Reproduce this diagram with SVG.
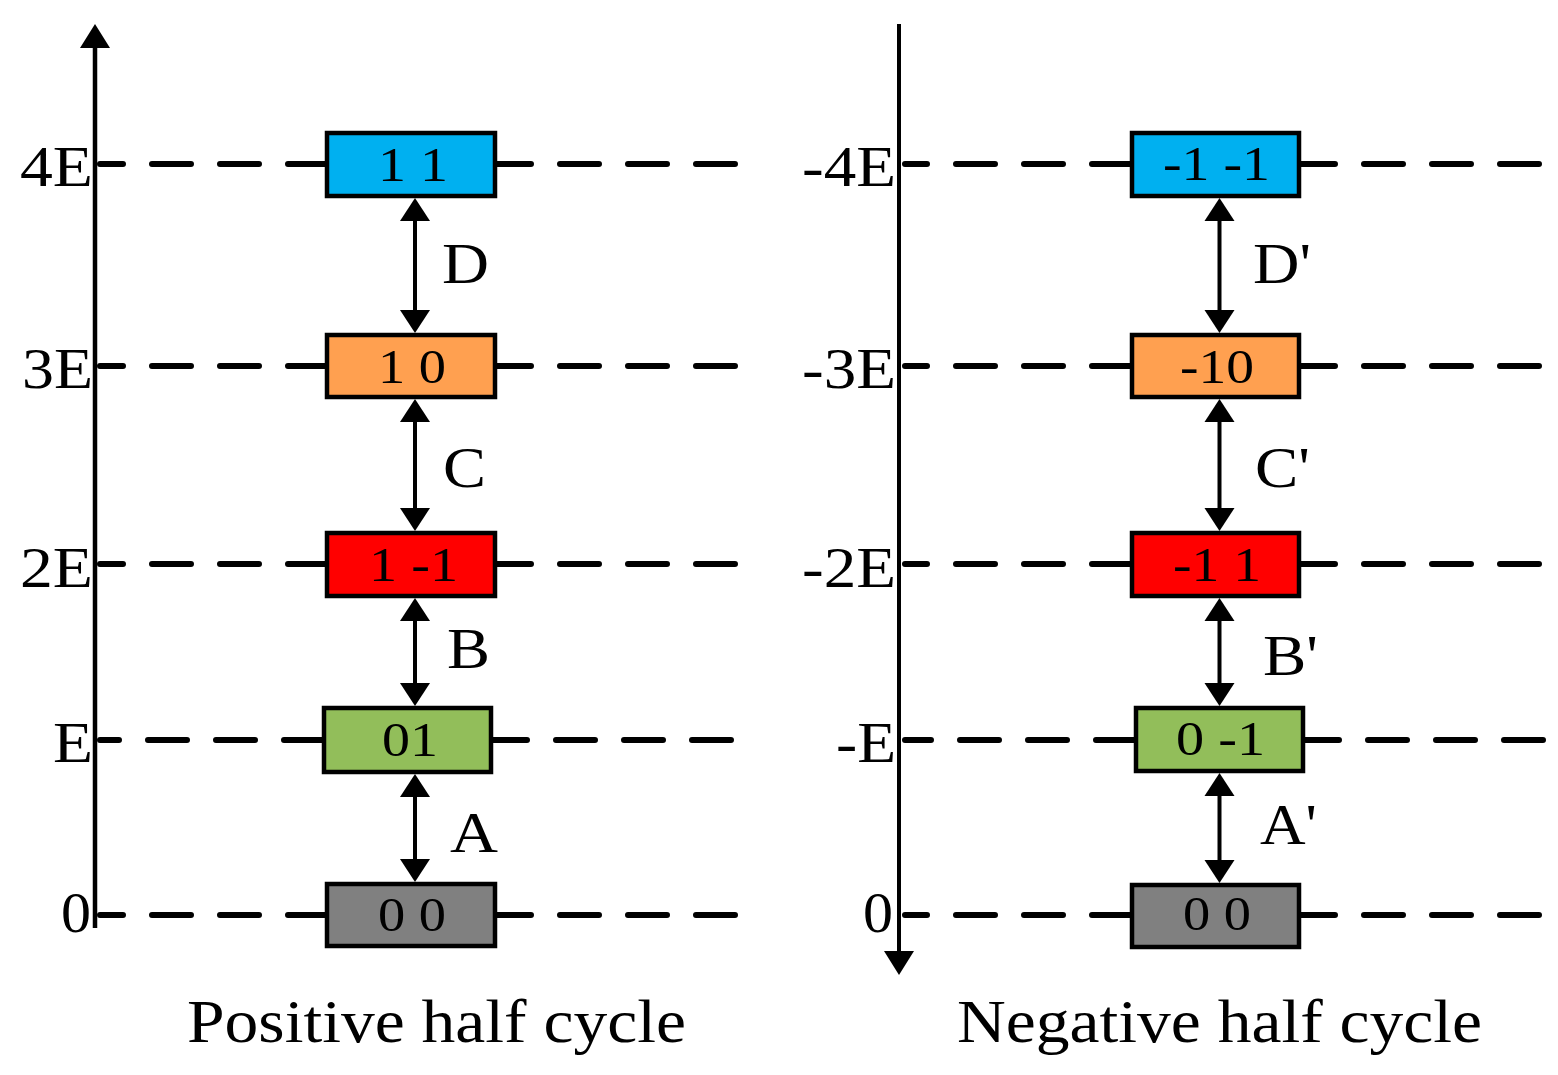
<svg xmlns="http://www.w3.org/2000/svg" width="1558" height="1075" viewBox="0 0 1558 1075">
<style>
text{font-family:"Liberation Serif","Times New Roman",serif;fill:#000}
.box{stroke:#000;stroke-width:4.5}
.bt{font-size:49px}
.lbl{font-size:58px}
.ttl{font-size:61px}
.dash{stroke:#000;stroke-width:6;stroke-linecap:round;stroke-dasharray:39 29;fill:none}
.ax{stroke:#000;stroke-width:4.5;fill:none}
.arr{stroke:#000;stroke-width:4;fill:none;marker-start:url(#ah);marker-end:url(#ah)}
</style>
<defs>
<marker id="ah" viewBox="0 -16 24 32" refX="11" refY="0" markerWidth="24" markerHeight="32" markerUnits="userSpaceOnUse" orient="auto-start-reverse">
<path d="M0,-15 L23,0 L0,15 Z" fill="#000"/>
</marker>
<marker id="axh" viewBox="0 -16 25 32" refX="11" refY="0" markerWidth="25" markerHeight="32" markerUnits="userSpaceOnUse" orient="auto">
<path d="M0,-15 L24,0 L0,15 Z" fill="#000"/>
</marker>
</defs>
<rect width="1558" height="1075" fill="#fff"/>

<g id="levels">
<line class="dash" x1="100" y1="164" x2="735" y2="164" stroke-dashoffset="16"/>
<line class="dash" x1="100" y1="366" x2="735" y2="366" stroke-dashoffset="16"/>
<line class="dash" x1="100" y1="564" x2="735" y2="564" stroke-dashoffset="16"/>
<line class="dash" x1="100" y1="740" x2="731" y2="740" stroke-dashoffset="20"/>
<line class="dash" x1="100" y1="915" x2="735" y2="915" stroke-dashoffset="16"/>
<line class="dash" x1="905" y1="164" x2="1540" y2="164" stroke-dashoffset="17"/>
<line class="dash" x1="905" y1="366" x2="1540" y2="366" stroke-dashoffset="17"/>
<line class="dash" x1="905" y1="564" x2="1540" y2="564" stroke-dashoffset="17"/>
<line class="dash" x1="905" y1="740" x2="1547" y2="740" stroke-dashoffset="13"/>
<line class="dash" x1="905" y1="915" x2="1540" y2="915" stroke-dashoffset="17"/>
</g>

<g id="axes">
<line class="ax" x1="95" y1="928" x2="95" y2="37" marker-end="url(#axh)"/>
<line class="ax" x1="899" y1="24" x2="899" y2="962" marker-end="url(#axh)" style="stroke-width:4"/>
<text class="lbl" x="20" y="186" textLength="73" lengthAdjust="spacingAndGlyphs">4E</text>
<text class="lbl" x="22" y="388" textLength="71" lengthAdjust="spacingAndGlyphs">3E</text>
<text class="lbl" x="20" y="587" textLength="73" lengthAdjust="spacingAndGlyphs">2E</text>
<text class="lbl" x="53" y="762" textLength="40" lengthAdjust="spacingAndGlyphs">E</text>
<text class="lbl" x="61" y="932" textLength="30" lengthAdjust="spacingAndGlyphs">0</text>
<text class="lbl" x="802" y="186" textLength="94" lengthAdjust="spacingAndGlyphs">-4E</text>
<text class="lbl" x="802" y="388" textLength="94" lengthAdjust="spacingAndGlyphs">-3E</text>
<text class="lbl" x="802" y="587" textLength="94" lengthAdjust="spacingAndGlyphs">-2E</text>
<text class="lbl" x="836" y="762" textLength="60" lengthAdjust="spacingAndGlyphs">-E</text>
<text class="lbl" x="863" y="932" textLength="30" lengthAdjust="spacingAndGlyphs">0</text>
</g>

<g id="p11"><rect class="box" x="327" y="133" width="168" height="63" fill="#00B0F0"/><text class="bt" x="378" y="181" textLength="70" lengthAdjust="spacingAndGlyphs">1 1</text></g>
<g id="p10"><rect class="box" x="327" y="335" width="168" height="62" fill="#FFA050"/><text class="bt" x="378" y="383" textLength="68" lengthAdjust="spacingAndGlyphs">1 0</text></g>
<g id="p1m1"><rect class="box" x="327" y="533" width="168" height="63" fill="#FF0000"/><text class="bt" x="369" y="581" textLength="89" lengthAdjust="spacingAndGlyphs">1 -1</text></g>
<g id="p01"><rect class="box" x="324" y="708" width="167" height="64" fill="#92BE5A"/><text class="bt" x="382" y="756" textLength="56" lengthAdjust="spacingAndGlyphs">01</text></g>
<g id="p00"><rect class="box" x="327" y="884" width="168" height="62" fill="#808080"/><text class="bt" x="378" y="931" textLength="68" lengthAdjust="spacingAndGlyphs">0 0</text></g>

<g id="nm1m1"><rect class="box" x="1132" y="133" width="167" height="63" fill="#00B0F0"/><text class="bt" x="1163" y="180" textLength="107" lengthAdjust="spacingAndGlyphs">-1 -1</text></g>
<g id="nm10"><rect class="box" x="1132" y="335" width="167" height="62" fill="#FFA050"/><text class="bt" x="1180" y="383" textLength="74" lengthAdjust="spacingAndGlyphs">-10</text></g>
<g id="nm11"><rect class="box" x="1132" y="533" width="167" height="63" fill="#FF0000"/><text class="bt" x="1173" y="581" textLength="88" lengthAdjust="spacingAndGlyphs">-1 1</text></g>
<g id="n0m1"><rect class="box" x="1136" y="708" width="167" height="63" fill="#92BE5A"/><text class="bt" x="1176" y="755" textLength="89" lengthAdjust="spacingAndGlyphs">0 -1</text></g>
<g id="n00"><rect class="box" x="1132" y="885" width="167" height="62" fill="#808080"/><text class="bt" x="1183" y="930" textLength="68" lengthAdjust="spacingAndGlyphs">0 0</text></g>

<g id="connectors">
<line class="arr" x1="415" y1="210" x2="415" y2="321"/>
<line class="arr" x1="415" y1="411" x2="415" y2="519"/>
<line class="arr" x1="415" y1="610" x2="415" y2="694"/>
<line class="arr" x1="415" y1="786" x2="415" y2="870"/>
<line class="arr" x1="1219.5" y1="210" x2="1219.5" y2="321"/>
<line class="arr" x1="1219.5" y1="411" x2="1219.5" y2="519"/>
<line class="arr" x1="1219.5" y1="610" x2="1219.5" y2="694"/>
<line class="arr" x1="1219.5" y1="785" x2="1219.5" y2="871"/>
<text class="lbl" x="442" y="283" textLength="47" lengthAdjust="spacingAndGlyphs">D</text>
<text class="lbl" x="443" y="487" textLength="43" lengthAdjust="spacingAndGlyphs">C</text>
<text class="lbl" x="447" y="668" textLength="43" lengthAdjust="spacingAndGlyphs">B</text>
<text class="lbl" x="450" y="852" textLength="48" lengthAdjust="spacingAndGlyphs">A</text>
<text class="lbl" x="1253" y="283" textLength="58" lengthAdjust="spacingAndGlyphs">D'</text>
<text class="lbl" x="1255" y="487" textLength="55" lengthAdjust="spacingAndGlyphs">C'</text>
<text class="lbl" x="1263" y="675" textLength="55" lengthAdjust="spacingAndGlyphs">B'</text>
<text class="lbl" x="1260" y="844" textLength="57" lengthAdjust="spacingAndGlyphs">A'</text>
</g>

<g id="titles">
<text class="ttl" x="187" y="1042" textLength="499" lengthAdjust="spacingAndGlyphs">Positive half cycle</text>
<text class="ttl" x="957" y="1042" textLength="525" lengthAdjust="spacingAndGlyphs">Negative half cycle</text>
</g>
</svg>
